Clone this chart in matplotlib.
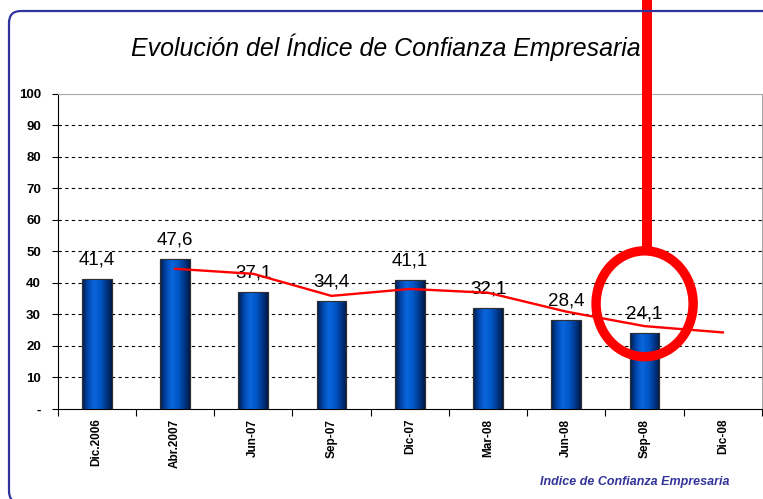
import numpy as np
import matplotlib
matplotlib.use('Agg')
import matplotlib.pyplot as plt
from matplotlib.patches import Ellipse, FancyBboxPatch
from matplotlib.colors import LinearSegmentedColormap
from matplotlib.ticker import FixedLocator, FixedFormatter

categories = ['Dic.2006', 'Abr.2007', 'Jun-07', 'Sep-07', 'Dic-07',
              'Mar-08', 'Jun-08', 'Sep-08', 'Dic-08']
bar_values = [41.4, 47.6, 37.1, 34.4, 41.1, 32.1, 28.4, 24.1]
bar_labels = ['41,4', '47,6', '37,1', '34,4', '41,1', '32,1', '28,4', '24,1']
trend_values = [44.5, 42.9, 35.9, 38.1, 36.9, 30.9, 26.3, 24.3]   # Abr.2007 .. Dic-08
ytick_values = [0, 10, 20, 30, 40, 50, 60, 70, 80, 90, 100]
ytick_labels = ['-', '10', '20', '30', '40', '50', '60', '70', '80', '90', '100']

plt.rcParams['font.family'] = ['Liberation Sans', 'DejaVu Sans']

fig = plt.figure(figsize=(7.63, 4.99), dpi=100)
ax = fig.add_axes([0.0755, 0.1804, 0.9232, 0.6313])

x = np.arange(len(categories))
width = 0.38
cmap = LinearSegmentedColormap.from_list(
    'cyl', ['#001c48', '#0048b0', '#0a66dc', '#0058c8', '#003a90', '#001a48'])
grad = np.linspace(0, 1, 64).reshape(1, -1)

bars = ax.bar(x[:len(bar_values)], bar_values, width=width, color='#0055c0',
              edgecolor='#2a2a2a', linewidth=0.8, zorder=3)
for b in bars:
    im = ax.imshow(grad, cmap=cmap, aspect='auto', zorder=3.5,
                   extent=[b.get_x(), b.get_x() + b.get_width(), 0, b.get_height()])
    im.set_clip_path(b)
    ax.add_patch(plt.Rectangle((b.get_x(), 0), b.get_width(), b.get_height(),
                               fill=False, edgecolor='#303030', linewidth=0.8, zorder=3.6))

for xi, v, lab in zip(x, bar_values, bar_labels):
    ax.text(xi, v + 4.6, lab, ha='center', va='baseline', fontsize=13.5,
            color='black', zorder=5)

ax.plot(x[1:], trend_values, color='#ff0000', linewidth=1.7, zorder=6)

ax.set_xlim(-0.5, len(categories) - 0.5)
ax.set_ylim(0, 100)

ax.yaxis.set_major_locator(FixedLocator(ytick_values))
ax.yaxis.set_major_formatter(FixedFormatter(ytick_labels))
ax.tick_params(axis='y', length=4, width=0.8, pad=8, labelsize=9.5)
for t in ax.get_yticklabels():
    t.set_fontweight('bold')

ax.set_xticks(x)
ax.set_xticklabels(categories, rotation=90, fontsize=8.5, fontweight='bold', va='top')
ax.tick_params(axis='x', which='major', length=0, pad=7)
ax.set_xticks(np.arange(-0.5, len(categories)), minor=True)
ax.tick_params(axis='x', which='minor', length=5, width=0.8)

for v in ytick_values[1:-1]:
    ax.axhline(v, color='black', linestyle=(0, (3, 3)), linewidth=0.8, zorder=1)

ax.spines['left'].set_color('black')
ax.spines['bottom'].set_color('black')
ax.spines['top'].set_color('#a8a8a8')
ax.spines['right'].set_color('#a8a8a8')

# title
fig.text(0.506, 0.905, 'Evolución del Índice de Confianza Empresaria',
         ha='center', va='center', fontsize=17.9, style='italic', color='black')

# footnote
fig.text(0.956, 0.022, 'Indice de Confianza Empresaria', ha='right', va='bottom',
         fontsize=9, style='italic', fontweight='bold', color='#333399')

# frame
frame = FancyBboxPatch((0.09, -0.04), 7.8, 4.92, boxstyle='round,pad=0,rounding_size=0.12',
                       transform=fig.dpi_scale_trans, facecolor='none',
                       edgecolor='#3333a0', linewidth=1.6, zorder=0)
fig.patches.append(frame)

# magnifier
ax.add_patch(Ellipse((7.0, 33.4), 1.24, 33.6, fill=False, edgecolor='#ff0000',
                     linewidth=6.8, zorder=8, clip_on=False))
ax.plot([7.03, 7.03], [50.3, 140], color='#ff0000', linewidth=7.2,
        solid_capstyle='butt', zorder=8, clip_on=False)

fig.savefig('out.png', dpi=100)
